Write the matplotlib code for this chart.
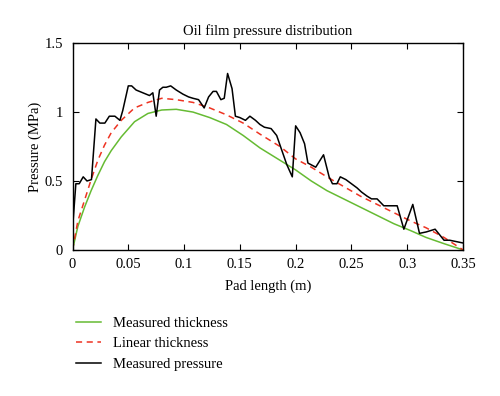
import matplotlib
matplotlib.use("Agg")
import matplotlib.pyplot as plt

plt.rcParams['font.family'] = ['Liberation Serif', 'DejaVu Serif']

# measured oil film pressure (noisy)
px = [0, 0.003, 0.006, 0.0096, 0.013, 0.017, 0.021, 0.0245, 0.029, 0.033,
      0.038, 0.0425, 0.045, 0.050, 0.053, 0.057, 0.063, 0.069, 0.072, 0.075,
      0.078, 0.081, 0.084, 0.088, 0.093, 0.099, 0.104, 0.108, 0.113, 0.118,
      0.122, 0.126, 0.129, 0.133, 0.136, 0.139, 0.143, 0.146, 0.150, 0.155,
      0.159, 0.164, 0.168, 0.172, 0.178, 0.183, 0.186, 0.192, 0.197, 0.200,
      0.204, 0.208, 0.211, 0.218, 0.225, 0.230, 0.233, 0.237, 0.240, 0.245,
      0.250, 0.255, 0.259, 0.264, 0.268, 0.273, 0.279, 0.283, 0.291, 0.297,
      0.305, 0.311, 0.317, 0.325, 0.328, 0.333, 0.338, 0.344, 0.350]
py = [0.15, 0.48, 0.48, 0.53, 0.50, 0.51, 0.95, 0.92, 0.92, 0.97,
      0.97, 0.94, 1.01, 1.19, 1.19, 1.16, 1.14, 1.12, 1.14, 0.97,
      1.16, 1.18, 1.18, 1.19, 1.16, 1.13, 1.11, 1.10, 1.09, 1.03,
      1.11, 1.15, 1.15, 1.09, 1.10, 1.28, 1.17, 0.97, 0.96, 0.94,
      0.97, 0.94, 0.91, 0.89, 0.88, 0.83, 0.76, 0.62, 0.53, 0.90,
      0.85, 0.77, 0.63, 0.60, 0.69, 0.53, 0.48, 0.48, 0.53, 0.51,
      0.48, 0.45, 0.42, 0.39, 0.37, 0.37, 0.32, 0.32, 0.32, 0.15,
      0.33, 0.12, 0.13, 0.15, 0.12, 0.07, 0.07, 0.06, 0.05]

# computed with measured thickness
gx = [0, 0.0048, 0.0108, 0.0167, 0.0227, 0.0287, 0.0347, 0.0437, 0.0556, 0.0676,
      0.08, 0.093, 0.108, 0.123, 0.138, 0.153, 0.168, 0.186, 0.2, 0.214,
      0.228, 0.243, 0.258, 0.273, 0.288, 0.303, 0.317, 0.333, 0.35]
gy = [0, 0.17, 0.31, 0.43, 0.54, 0.64, 0.72, 0.82, 0.93, 0.99,
      1.015, 1.02, 1.0, 0.96, 0.91, 0.83, 0.74, 0.65, 0.58, 0.50,
      0.43, 0.37, 0.31, 0.25, 0.19, 0.14, 0.09, 0.045, 0]

# computed with linear thickness
ry = [0, 0.21, 0.36, 0.51, 0.65, 0.76, 0.85, 0.94, 1.03, 1.07,
      1.10, 1.09, 1.07, 1.03, 0.98, 0.92, 0.84, 0.75, 0.66, 0.60,
      0.53, 0.46, 0.39, 0.33, 0.27, 0.21, 0.16, 0.09, 0]

xticks = [0, 0.05, 0.1, 0.15, 0.2, 0.25, 0.3, 0.35]
xticklabels = ['0', '0.05', '0.1', '0.15', '0.2', '0.25', '0.3', '0.35']
yticks = [0, 0.5, 1, 1.5]
yticklabels = ['0', '0.5', '1', '1.5']

fig = plt.figure(figsize=(5, 3.96), dpi=100)
ax = fig.add_axes([0.145, 0.369, 0.781, 0.522])

ax.plot(gx, gy, color='#66bb33', lw=1.1, label='Measured thickness')
ax.plot(gx, ry, color='#ee3322', lw=1.1, ls=(0, (4, 3)), label='Linear thickness')
ax.plot(px, py, color='black', lw=1.1, label='Measured pressure')

ax.set_xlim(0, 0.35)
ax.set_ylim(0, 1.5)
ax.set_xticks(xticks)
ax.set_xticklabels(xticklabels)
ax.set_yticks(yticks)
ax.set_yticklabels(yticklabels)
ax.tick_params(direction='in', top=True, right=True, length=4, labelsize=10.5)
ax.tick_params(axis='x', pad=6)
ax.tick_params(axis='y', pad=7)
for s in ax.spines.values():
    s.set_linewidth(1.0)

ax.set_title('Oil film pressure distribution', fontsize=10.5, pad=6)
ax.set_xlabel('Pad length (m)', fontsize=10.5, labelpad=6)
ax.set_ylabel('Pressure (MPa)', fontsize=10.5, labelpad=2)

fig.legend(loc='upper left', bbox_to_anchor=(0.14, 0.215), frameon=False,
           fontsize=10.5, handlelength=1.75, handletextpad=0.8, labelspacing=0.5,
           borderaxespad=0)

fig.savefig('out.png', dpi=100)
